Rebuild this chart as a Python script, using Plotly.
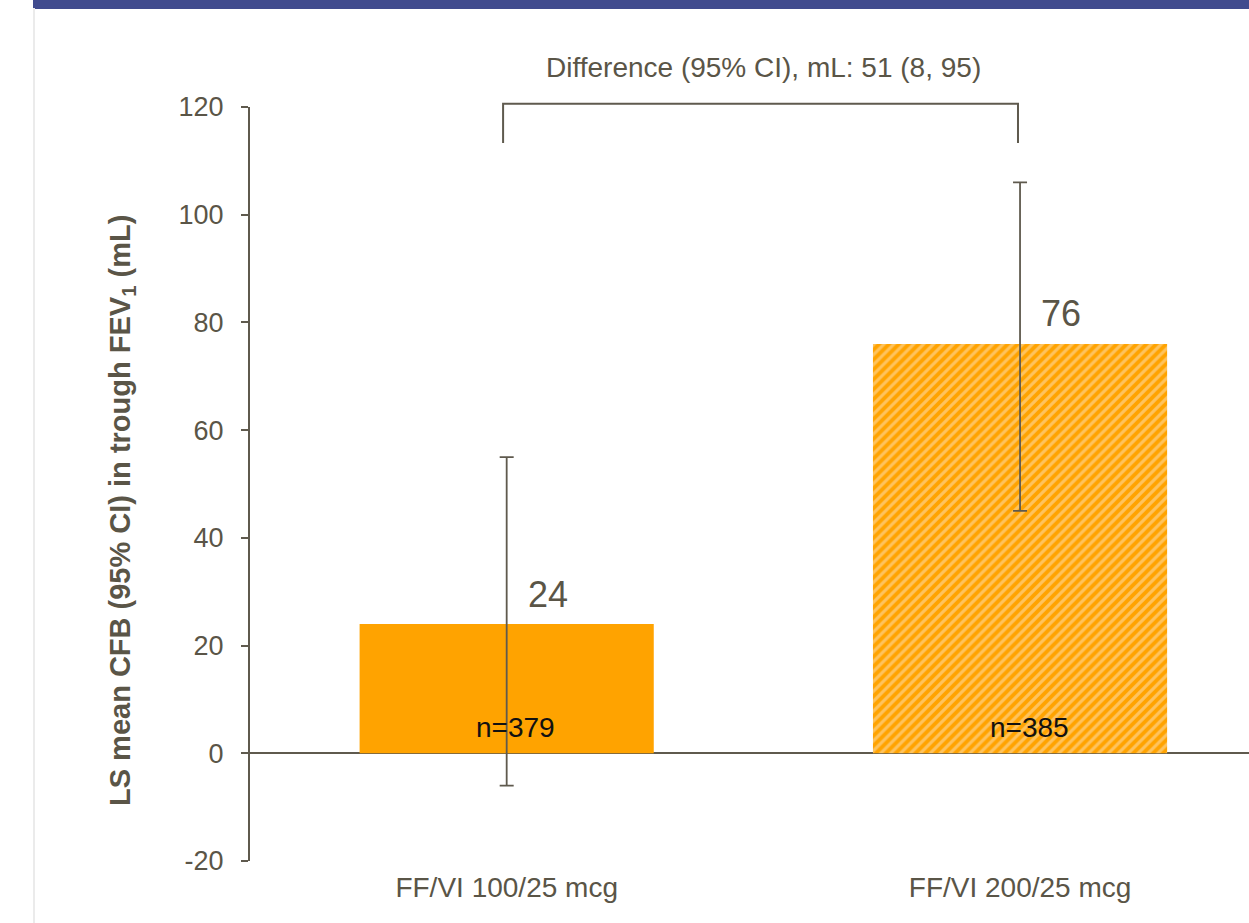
import plotly.graph_objects as go

categories = ["FF/VI 100/25 mcg", "FF/VI 200/25 mcg"]
ls_mean = [24, 76]
ci_lower = [-6, 45]
ci_upper = [55, 106]
n_labels = ["n=379", "n=385"]
diff_text = "Difference (95% CI), mL: 51 (8, 95)"
y_ticks = [-20, 0, 20, 40, 60, 80, 100, 120]
y_tick_text = ["-20", "0", "20", "40", "60", "80", "100", "120"]
bracket_low, bracket_high = 113.3, 120.6

Y_MIN, Y_MAX = -20, 120
TXT = "#5a5547"
LINE = "#5f5a4e"
ORANGE = "#FFA300"
FONT = "Arial, Liberation Sans, sans-serif"

W, H = 1249, 923
ML, MT, MB = 250, 107, 62
PW = W - ML
PH = H - MT - MB

err_plus = [u - m for u, m in zip(ci_upper, ls_mean)]
err_minus = [m - l for m, l in zip(ls_mean, ci_lower)]

fig = go.Figure()
for i, cat in enumerate(categories):
    marker = dict(color=ORANGE, line=dict(width=0))
    if i == 1:
        marker = dict(color=ORANGE, line=dict(width=0),
                      pattern=dict(shape="/", fgcolor="#FDE3BC", bgcolor=ORANGE,
                                   size=7, solidity=0.45, fillmode="overlay"))
    fig.add_trace(go.Bar(
        x=[cat], y=[ls_mean[i]], width=0.573, marker=marker,
        error_y=dict(type="data", symmetric=False, array=[err_plus[i]],
                     arrayminus=[err_minus[i]], color=LINE, thickness=1.8, width=7),
        showlegend=False, hoverinfo="skip"))
    fig.add_annotation(x=cat, y=ls_mean[i], text=str(ls_mean[i]), showarrow=False,
                       xref="x", yref="y", yanchor="middle", xanchor="center",
                       xshift=41, yshift=30, font=dict(size=36, color=TXT, family=FONT))
    fig.add_annotation(x=cat, y=0, text=n_labels[i], showarrow=False,
                       xref="x", yref="y", yanchor="middle", xanchor="center",
                       xshift=9, yshift=26, font=dict(size=28, color="#111111", family=FONT))

def to_paper(v):
    return (v - Y_MIN) / (Y_MAX - Y_MIN)

# bracket
fig.add_shape(type="path", xref="x", yref="paper",
              path=f"M -0.007,{to_paper(bracket_low)} L -0.007,{to_paper(bracket_high)} L 0.996,{to_paper(bracket_high)} L 0.996,{to_paper(bracket_low)}",
              line=dict(color=LINE, width=2))
fig.add_annotation(x=0.5, y=to_paper(bracket_high), xref="x", yref="paper", text=diff_text,
                   showarrow=False, yanchor="bottom", yshift=19,
                   font=dict(size=28, color=TXT, family=FONT))

# y-axis title
fig.add_annotation(x=(122 - ML) / PW, y=(861 - 511) / PH, xref="paper", yref="paper",
                   xanchor="center", yanchor="middle",
                   text="<b>LS mean CFB (95% CI) in trough FEV<sub>1</sub> (mL)</b>",
                   textangle=-90, showarrow=False,
                   font=dict(size=29, color=TXT, family=FONT))

# page decorations: top band and left rule
fig.add_shape(type="rect", xref="paper", yref="paper", x0=(33 - ML) / PW, x1=1.01,
              y0=(861 - 9) / PH, y1=(861 + 5) / PH, fillcolor="#414B8E", line=dict(width=0), layer="above")
fig.add_shape(type="line", xref="paper", yref="paper", x0=(34 - ML) / PW, x1=(34 - ML) / PW,
              y0=-0.1, y1=(861 - 8) / PH, line=dict(color="#EBEBEB", width=2))

fig.update_layout(
    width=W, height=H,
    margin=dict(l=ML, r=0, t=MT, b=MB, pad=0),
    paper_bgcolor="white", plot_bgcolor="white",
    font=dict(family=FONT, color=TXT),
    xaxis=dict(type="category", range=[-0.5, 1.446], showline=False, ticks="",
               showgrid=False, zeroline=False, ticklabelstandoff=7,
               tickfont=dict(size=28, color=TXT)),
    yaxis=dict(range=[Y_MIN, Y_MAX], tickvals=y_ticks, ticktext=y_tick_text, showgrid=False,
               showline=True, linecolor=LINE, linewidth=2,
               ticks="outside", ticklen=7, tickwidth=2, tickcolor=LINE,
               zeroline=True, zerolinecolor=LINE, zerolinewidth=2,
               ticklabelstandoff=12,
               tickfont=dict(size=27, color=TXT)),
)

fig.write_html("out.html", config={"displayModeBar": False},
               post_script="document.body.style.margin='0px';document.body.style.overflow='hidden';")
